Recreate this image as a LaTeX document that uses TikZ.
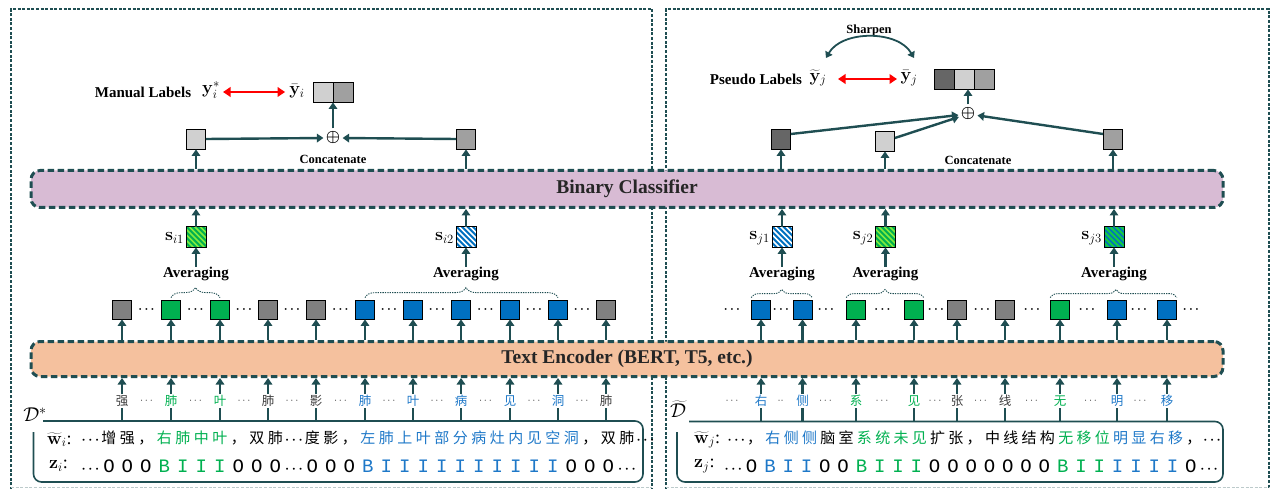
\RequirePackage{fix-cm}
\documentclass[tikz,border=0pt]{standalone}
\usepackage[no-math]{fontspec}
\setmainfont{Liberation Serif}
\newfontfamily\cjk{Noto Sans CJK SC}
\newfontfamily\zmono{Liberation Mono}
\usetikzlibrary{arrows.meta,decorations.pathreplacing}
\definecolor{tl}{RGB}{31,78,82}
\definecolor{gB}{RGB}{0,176,80}
\definecolor{bB}{RGB}{0,112,192}
\definecolor{grB}{RGB}{128,128,128}
\definecolor{lg}{RGB}{208,208,208}
\definecolor{mg}{RGB}{160,160,160}
\definecolor{dg}{RGB}{102,102,102}
\definecolor{pur}{RGB}{216,187,212}
\definecolor{pch}{RGB}{245,193,158}
\definecolor{tg}{RGB}{0,176,80}
\definecolor{tb}{RGB}{30,120,200}
\definecolor{lime}{RGB}{130,235,60}
\definecolor{lgreen}{RGB}{20,200,70}
\definecolor{tk}{RGB}{60,60,60}
\newlength\pitch
\setlength\pitch{18.5pt}
\newcommand\cc[1]{\makebox[\pitch][c]{#1}}
\def\boxall#1{\boxallA#1\relax}
\def\boxallA#1{\ifx#1\relax\else\cc{#1}\expandafter\boxallA\fi}
\newcommand\dd{\cc{\fontsize{13}{13}\selectfont\boldmath$\cdots$}}
\newcommand\hatchbox[4]{%
  \fill[#2] (#1.south west) rectangle (#1.north east);
  \begin{scope}
    \clip (#1.south west) rectangle (#1.north east);
    \foreach \k in {-30,-24.5,...,25} {\draw[#3,line width=#4] ([xshift=\k pt]#1.north west) -- ++(24,24);}
  \end{scope}
  \draw[black,line width=0.8pt] (#1.south west) rectangle (#1.north east);}
\begin{document}
\begin{tikzpicture}[x=1pt,y=-1pt,
  frm/.style={draw=tl,line width=1.4pt,dash pattern=on 3pt off 1.6pt},
  framebot/.style={draw=tl!30,line width=1.2pt,dash pattern=on 3pt off 1.6pt},
  bigbox/.style={draw=tl,line width=3pt,dash pattern=on 6.5pt off 3.5pt,rounded corners=9pt,minimum width=1192pt,inner sep=0pt,font=\fontsize{19.5}{22}\selectfont\bfseries,text=black!85},
  arr/.style={draw=tl,line width=2.4pt,-{Triangle[width=8.5pt,length=6.5pt]}},
  ln/.style={draw=tl,line width=2.4pt},
  tok/.style={draw=black,line width=0.8pt,minimum width=19pt,minimum height=19pt,inner sep=0pt},
  dotz/.style={font=\fontsize{12}{12}\selectfont\boldmath,inner sep=0pt},
  cdotz/.style={font=\fontsize{11}{11}\selectfont,inner sep=0pt,text=tk},
  lbl/.style={font=\fontsize{15}{17}\selectfont\bfseries,inner sep=0pt},
  slbl/.style={font=\fontsize{12.5}{14}\selectfont\bfseries,inner sep=0pt},
  mlbl/.style={font=\fontsize{18}{20}\selectfont,inner sep=0pt},
  chr/.style={font=\cjk\fontsize{12.5}{13}\selectfont,inner sep=1pt},
  brc/.style={draw=tl,line width=0.9pt,dash pattern=on 1.3pt off 1.1pt,decorate,decoration={brace,amplitude=10pt}},
  redarr/.style={draw=red,line width=2.4pt,{Triangle[width=9.5pt,length=7.5pt]}-{Triangle[width=9.5pt,length=7.5pt]}},
  sbx/.style={draw=tl,line width=1.6pt,rounded corners=8pt},
  plusn/.style={circle,inner sep=0pt,fill=white,font=\fontsize{16}{16}\selectfont\boldmath},
  rowtxt/.style={anchor=west,inner sep=0pt},
  rlbl/.style={inner sep=0pt,font=\fontsize{18}{18}\selectfont,anchor=west}
]
\useasboundingbox (0,0) rectangle (1270,489);
% frames
\draw[frm] (11,490) -- (11,9) -- (652,9) -- (652,490);
\draw[frm] (666,490) -- (666,9) -- (1268.8,9) -- (1268.8,490);
\draw[framebot] (11,487.8) -- (652,487.8);
\draw[framebot] (666,487.8) -- (1268.8,487.8);
% big boxes
\node[bigbox,fill=pur,minimum height=37pt] (bc) at (627,189) {Binary Classifier};
\node[bigbox,fill=pch,minimum height=35pt] (enc) at (627,359) {Text Encoder (BERT, T5, etc.)};
\coordinate (tL) at (0,421);
% ---------- left tokens
\foreach \x/\c [count=\i] in {122/grB,171/gB,220/gB,268/grB,316/grB,365/bB,413/bB,461/bB,510/bB,558/bB,606/grB}{
  \node[tok,fill=\c] (L\i) at (\x,309.5) {};
  \draw[arr] (L\i |- enc.north) -- (L\i.south);}
\foreach \x [count=\i] in {146.5,195.5,244,292,340.5,389,437,485.5,534,582}{
  \node[dotz] (LD\i) at (\x,310) {$\cdots$};
  \node[cdotz] (LE\i) at (\x,401) {$\cdots$};}
\foreach \x/\t/\c [count=\i] in {122/强/tk,171/肺/tg,220/叶/tg,268/肺/tk,316/影/tk,365/肺/tb,413/叶/tb,461/病/tb,510/见/tb,558/洞/tb,606/肺/tk}{
  \node[chr,text=\c] (LC\i) at (\x,401) {\t};
  \draw[arr] (LC\i.north) -- (LC\i |- enc.south);
  \draw[ln] (LC\i |- tL) -- (LC\i.south);}
\draw[brc] ([yshift=2]L2.north) -- ([yshift=2]L3.north);
\draw[brc,decoration={brace,amplitude=10pt,aspect=0.523}] ([yshift=2]L6.north) -- ([yshift=2]L10.north);
\node[lbl] (AL1) at (196,274) {Averaging};
\node[lbl] (AL2) at (466,274) {Averaging};
\node[tok,minimum height=20pt] (SL1) at (196,237) {};
\node[tok,minimum height=20pt] (SL2) at (466,237) {};
\hatchbox{SL1}{gB}{lime}{1.7pt}
\hatchbox{SL2}{bB}{white}{1.7pt}
\node[mlbl,anchor=east] (SLl1) at ([xshift=-2,yshift=-1]SL1.west) {$\mathbf{s}_{i1}$};
\node[mlbl,anchor=east] (SLl2) at ([xshift=-2,yshift=-1]SL2.west) {$\mathbf{s}_{i2}$};
\foreach \i in {1,2}{
  \draw[arr] (AL\i.north) -- (SL\i.south);
  \draw[arr] (SL\i.north) -- (SL\i |- bc.south);}
\node[tok,fill=lg,minimum height=20pt] (UL1) at (196,139) {};
\node[tok,fill=mg,minimum height=20pt] (UL2) at (466,139) {};
\foreach \i in {1,2}{\draw[arr] (UL\i |- bc.north) -- (UL\i.south);}
\node[plusn] (PL) at (333,138) {$\oplus$};
\draw[arr] (UL1.east) -- (PL.west);
\draw[arr] (UL2.west) -- (PL.east);
\node[slbl] (CL) at (333,159) {Concatenate};
\node[tok,fill=lg,minimum width=20pt,minimum height=20pt] (YL1) at (323,92) {};
\node[tok,fill=mg,minimum width=20pt,minimum height=20pt] (YL2) at (343,92) {};
\draw[arr] (PL.north) -- (PL |- YL1.south);
\node[mlbl] (ybL) at (297,91) {$\bar{\mathbf{y}}_i$};
\node[mlbl] (ysL) at (211,90) {$\mathbf{y}_i^*$};
\draw[redarr] (223,92) -- ([xshift=-4]ybL.west |- 0,92);
\node[lbl] (ML) at (143,92) {Manual Labels};
% ---------- right tokens
\foreach \x/\c [count=\i] in {761/bB,802.5/bB,856/gB,914/gB,957/grB,1005/grB,1060/gB,1117/bB,1167/bB}{
  \node[tok,fill=\c] (R\i) at (\x,309.5) {};
  \draw[arr] (R\i |- enc.north) -- (R\i.south);}
\foreach \x [count=\i] in {732,781,826,882.5,936,982,1032,1087,1139,1191}{
  \node[dotz] (RD\i) at (\x,310) {$\cdots$};}
\foreach \x/\t [count=\i] in {732/$\cdots$,780.6/$\cdot\cdot$,825.5/$\cdots$,882/$\cdots$,935/$\cdots$,980.6/$\cdots$,1031.6/$\cdots$,1090.6/$\cdots$,1140/$\cdots$}{
  \node[cdotz] (RE\i) at (\x,401) {\t};}
\foreach \x/\t/\c [count=\i] in {761/右/tb,802.5/侧/tb,856/系/tg,914/见/tg,957/张/tk,1005/线/tk,1060/无/tg,1117/明/tb,1167/移/tb}{
  \node[chr,text=\c] (RC\i) at (\x,401) {\t};
  \draw[arr] (RC\i.north) -- (RC\i |- enc.south);
  \draw[ln] (RC\i |- tL) -- (RC\i.south);}
\draw[brc,decoration={brace,amplitude=8pt}] ([yshift=2]R1.north west) -- ([yshift=2]R2.north east);
\draw[brc,decoration={brace,amplitude=8pt}] ([yshift=2]R3.north west) -- ([yshift=2]R4.north east);
\draw[brc,decoration={brace,amplitude=8pt,aspect=0.52}] ([yshift=2]R7.north west) -- ([yshift=2]R9.north east);
\node[lbl] (AR1) at (782,274) {Averaging};
\node[lbl] (AR2) at (885.5,274) {Averaging};
\node[lbl] (AR3) at (1114,274) {Averaging};
\node[tok,minimum height=20pt] (SR1) at (782,237) {};
\node[tok,minimum height=20pt] (SR2) at (885.5,237) {};
\node[tok,minimum height=20pt] (SR3) at (1114,237) {};
\hatchbox{SR1}{bB}{white}{1.7pt}
\hatchbox{SR2}{gB}{lime}{1.7pt}
\hatchbox{SR3}{lgreen}{bB}{1.4pt}
\node[mlbl,anchor=east] (SRl1) at ([xshift=-2,yshift=-1]SR1.west) {$\mathbf{s}_{j1}$};
\node[mlbl,anchor=east] (SRl2) at ([xshift=-2,yshift=-1]SR2.west) {$\mathbf{s}_{j2}$};
\node[mlbl,anchor=east] (SRl3) at ([xshift=-2,yshift=-1]SR3.west) {$\mathbf{s}_{j3}$};
\foreach \i in {1,2,3}{
  \draw[arr] (AR\i.north) -- (SR\i.south);
  \draw[arr] (SR\i.north) -- (SR\i |- bc.south);}
\node[tok,fill=dg,minimum height=20pt] (UR1) at (781,139) {};
\node[tok,fill=lg,minimum height=20pt] (UR2) at (885,141) {};
\node[tok,fill=mg,minimum height=20pt] (UR3) at (1113,139) {};
\foreach \i in {1,2,3}{\draw[arr] (UR\i |- bc.north) -- (UR\i.south);}
\node[plusn] (PR) at (968,114) {$\oplus$};
\draw[arr] ([yshift=5]UR1.east) -- (PR);
\draw[arr] ([yshift=3]UR2.east) -- (PR);
\draw[arr] ([yshift=5]UR3.west) -- (PR);
\node[slbl] (CR) at (978,160) {Concatenate};
\node[tok,fill=dg,minimum width=20pt,minimum height=20pt] (YR1) at (944,79) {};
\node[tok,fill=lg,minimum width=20pt,minimum height=20pt] (YR2) at (964,79) {};
\node[tok,fill=mg,minimum width=20pt,minimum height=20pt] (YR3) at (984,79) {};
\draw[arr] (PR.north) -- (PR |- YR2.south);
\node[mlbl] (ybR) at (909,78) {$\bar{\mathbf{y}}_j$};
\node[mlbl] (ytR) at (818,78) {$\widetilde{\mathbf{y}}_j$};
\draw[redarr] (838,79) -- (897,79);
\node[lbl] (PLb) at (756,79) {Pseudo Labels};
\node[slbl] (SH) at (869,30) {Sharpen};
\coordinate (sh1) at (826,58);
\coordinate (sh2) at (914,58);
\draw[draw=tl,line width=1.8pt,{Triangle[width=8pt,length=6pt]}-{Triangle[width=8pt,length=6pt]}] (sh1) .. controls (842,30) and (898,30) .. (sh2);
% ---------- sentence boxes
\draw[sbx] (43,421) -- (643,421) -- (643,482) -- (33.5,482) -- (33.5,432);
\node[inner sep=0pt,font=\fontsize{20}{20}\selectfont] (DL) at (35,415) {$\mathcal{D}^{*}$};
\node[rlbl] (wLl) at (47,440) {$\widetilde{\mathbf{w}}_i$:};
\node[rlbl] (zLl) at (49,466) {$\mathbf{z}_i$:};
\node[rowtxt,font=\cjk\fontsize{15}{15}\selectfont] (wL) at (81,438) {\dd\boxall{增强，}\textcolor{tg}{\boxall{右肺中叶}}\boxall{，双肺}\dd\boxall{度影，}\textcolor{tb}{\boxall{左肺上叶部分病灶内见空洞}}\boxall{，双肺}\dd};
\node[rowtxt,font=\zmono\fontsize{19}{19}\selectfont] (zL) at (81,466) {\dd\boxall{OOO}\textcolor{tg}{\boxall{BIII}}\boxall{OOO}\dd\boxall{OOO}\textcolor{tb}{\boxall{BIIIIIIIIII}}\boxall{OOO}\dd};
\draw[sbx] (689,421.5) -- (1223,421.5) -- (1223,482) -- (677,482) -- (677,432);
\node[inner sep=0pt,font=\fontsize{20}{20}\selectfont] (DR) at (678,409) {$\widetilde{\mathcal{D}}$};
\node[rlbl] (wRl) at (694,440) {$\widetilde{\mathbf{w}}_j$:};
\node[rlbl] (zRl) at (694,466) {$\mathbf{z}_j$:};
\node[rowtxt,font=\cjk\fontsize{15}{15}\selectfont] (wR) at (727,438) {\setlength\pitch{18.3pt}\dd\boxall{，}\textcolor{tb}{\boxall{右侧侧}}\boxall{脑室}\textcolor{tg}{\boxall{系统未见}}\boxall{扩张，中线结构}\textcolor{tg}{\boxall{无移位}}\textcolor{tb}{\boxall{明显右移}}\boxall{，}\dd};
\node[rowtxt,font=\zmono\fontsize{19}{19}\selectfont] (zR) at (724,466) {\setlength\pitch{18.3pt}\dd\boxall{O}\textcolor{tb}{\boxall{BII}}\boxall{OO}\textcolor{tg}{\boxall{BIII}}\boxall{OOOOOOO}\textcolor{tg}{\boxall{BII}}\textcolor{tb}{\boxall{IIII}}\boxall{O}\dd};
\end{tikzpicture}
\end{document}
